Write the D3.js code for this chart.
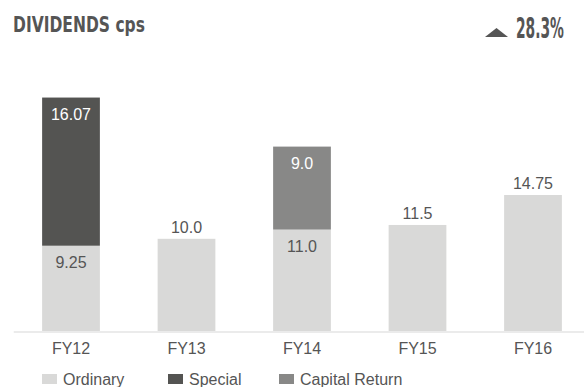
<!DOCTYPE html>
<html>
<head>
<meta charset="utf-8">
<script src="https://cdn.jsdelivr.net/npm/d3@7"></script>
<style>
  html, body { margin: 0; padding: 0; background: #fff; }
  svg { display: block; }
  text { font-family: "Liberation Sans", Arial, sans-serif; }
</style>
</head>
<body>
<svg id="chart" width="584" height="387"></svg>
<script>
// Dividends per share (cents), by financial year
const years = ["FY12", "FY13", "FY14", "FY15", "FY16"];
const ordinary = [9.25, 10.0, 11.0, 11.5, 14.75];
const special = [16.07, 0, 0, 0, 0];
const capitalReturn = [0, 0, 9.0, 0, 0];
const seriesNames = ["Ordinary", "Special", "Capital Return"];
const seriesColors = ["#d9d9d8", "#545452", "#888887"];
const labelColors = ["#555555", "#ffffff", "#ffffff"];
const titleText = "DIVIDENDS cps";
const growthText = "28.3%";

const svg = d3.select("#chart");
const baseY = 331;

const rows = years.map((yr, i) => ({
  year: yr,
  "Ordinary": ordinary[i],
  "Special": special[i],
  "Capital Return": capitalReturn[i]
}));

const stacked = d3.stack().keys(seriesNames)(rows);

const x = d3.scaleBand()
  .domain(years)
  .range([13.25, 590.75])
  .paddingInner(0.5)
  .paddingOuter(0.25);

const y = d3.scaleLinear()
  .domain([0, 26])
  .range([baseY, baseY - 26 * 9.22]);

const color = d3.scaleOrdinal().domain(seriesNames).range(seriesColors);
const labelColor = d3.scaleOrdinal().domain(seriesNames).range(labelColors);

const fmt = v => Number.isInteger(Math.round(v * 100) / 10) ? v.toFixed(1) : v.toFixed(2);

// Condensed text: squeeze horizontally to a target width
function condensed(sel, x0, y0, width) {
  const natural = sel.node().getComputedTextLength();
  const k = Math.min(1, width / natural);
  sel.attr("transform", `translate(${x0},${y0}) scale(${k},1)`);
}

// Title
const title = svg.append("text")
  .attr("fill", "#555555")
  .style("font-family", "'Liberation Sans Narrow', 'DejaVu Sans Condensed', sans-serif")
  .style("font-weight", "bold")
  .style("font-size", "22px")
  .text(titleText);
condensed(title, 13, 32, 132);

// Growth indicator
svg.append("path")
  .attr("d", "M485,37 L496.5,28 L508,37 Z")
  .attr("fill", "#555555");

const growth = svg.append("text")
  .attr("fill", "#555555")
  .style("font-family", "'Liberation Sans Narrow', 'DejaVu Sans Condensed', sans-serif")
  .style("font-weight", "bold")
  .style("font-size", "29px")
  .text(growthText);
condensed(growth, 516, 38, 48);

// Bars
const layers = svg.append("g")
  .selectAll("g")
  .data(stacked)
  .join("g")
  .attr("fill", d => color(d.key));

layers.selectAll("rect")
  .data(d => d.map(p => ({ key: d.key, year: p.data.year, y0: p[0], y1: p[1] })))
  .join("rect")
  .filter(d => d.y1 > d.y0)
  .attr("x", d => x(d.year))
  .attr("width", x.bandwidth())
  .attr("y", d => y(d.y1))
  .attr("height", d => y(d.y0) - y(d.y1));

// Axis
const axis = svg.append("g")
  .attr("transform", `translate(0,${baseY + 0.5})`)
  .call(d3.axisBottom(x).tickSize(0).tickSizeOuter(0).tickPadding(11));
axis.select(".domain").attr("stroke", "#e4e4e4").attr("stroke-width", 1.5);
axis.selectAll("text")
  .attr("fill", "#555555")
  .style("font-family", "'Liberation Sans', Arial, sans-serif")
  .style("font-size", "16px");

// Value labels: inside a segment when another sits on top or it is not ordinary,
// otherwise just above the bar
const segs = [];
stacked.forEach(layer => {
  layer.forEach(p => {
    if (p[1] > p[0]) segs.push({ key: layer.key, year: p.data.year, y0: p[0], y1: p[1], v: p[1] - p[0] });
  });
});
const topOf = {};
segs.forEach(s => { topOf[s.year] = Math.max(topOf[s.year] || 0, s.y1); });
const inside = d => d.y1 < topOf[d.year] || d.key !== "Ordinary";

svg.append("g")
  .selectAll("text")
  .data(segs)
  .join("text")
  .attr("x", d => x(d.year) + x.bandwidth() / 2)
  .attr("y", d => inside(d) ? y(d.y1) + 22 : y(d.y1) - 6)
  .attr("text-anchor", "middle")
  .attr("fill", d => inside(d) ? labelColor(d.key) : "#555555")
  .style("font-size", "16px")
  .text(d => fmt(d.v));

// Legend
const legendX = [42, 168, 279];
const legend = svg.append("g")
  .selectAll("g")
  .data(seriesNames)
  .join("g")
  .attr("transform", (d, i) => `translate(${legendX[i]},374)`);

legend.append("rect")
  .attr("width", 15)
  .attr("height", 10)
  .attr("fill", d => color(d));

legend.append("text")
  .attr("x", 21)
  .attr("y", 10.5)
  .attr("fill", "#555555")
  .style("font-size", "16px")
  .text(d => d);
</script>
</body>
</html>
